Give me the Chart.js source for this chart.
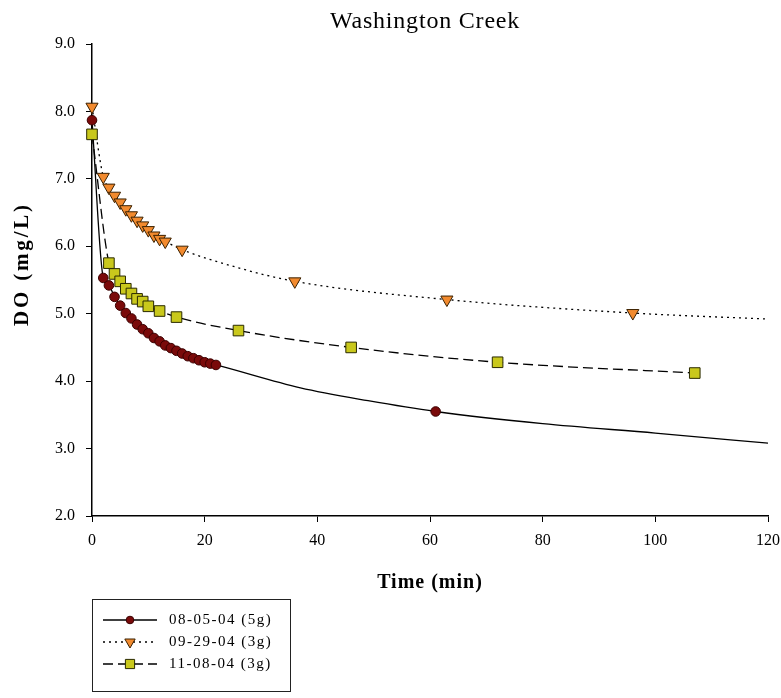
<!DOCTYPE html>
<html>
<head>
<meta charset="utf-8">
<script src="https://cdn.jsdelivr.net/npm/chart.js@4.4.1/dist/chart.umd.min.js"></script>
<style>
  html, body { margin: 0; padding: 0; background: #fff; }
  #wrap { width: 781px; height: 698px; }
</style>
</head>
<body>
<div id="wrap"><canvas id="chart_do_id" width="781" height="698"></canvas></div>
<script>
var chartTitle = 'Washington Creek';
var xTitle = 'Time (min)';
var yTitle = 'DO (mg/L)';
var seriesNames = ['08-05-04 (5g)', '09-29-04 (3g)', '11-08-04 (3g)'];

var t0805 = [0, 2, 3, 4, 5, 6, 7, 8, 9, 10, 11, 12, 13, 14, 15, 16, 17, 18, 19, 20, 21, 22, 61];
var do0805 = [7.87, 5.53, 5.42, 5.25, 5.12, 5.01, 4.93, 4.84, 4.77, 4.71, 4.64, 4.59, 4.53, 4.49,
              4.45, 4.41, 4.37, 4.34, 4.31, 4.28, 4.26, 4.24, 3.55];
// extra points along the drawn curve (no marker)
var curveT0805 = [37, 49, 80, 100, 120];
var curveDo0805 = [3.90, 3.71, 3.37, 3.23, 3.08];

var t0929 = [0, 2, 3, 4, 5, 6, 7, 8, 9, 10, 11, 12, 13, 16, 36, 63, 96];
var do0929 = [8.07, 7.03, 6.87, 6.75, 6.65, 6.55, 6.46, 6.38, 6.31, 6.24, 6.16, 6.11, 6.07,
              5.95, 5.48, 5.21, 5.01];
var curveT0929 = [26, 120];
var curveDo0929 = [5.68, 4.92];

var t1108 = [0, 3, 4, 5, 6, 7, 8, 9, 10, 12, 15, 26, 46, 72, 107];
var do1108 = [7.66, 5.75, 5.59, 5.48, 5.37, 5.30, 5.22, 5.18, 5.11, 5.04, 4.95, 4.75, 4.50, 4.28, 4.12];
var curveT1108 = [];
var curveDo1108 = [];

var xTicks = [0, 20, 40, 60, 80, 100, 120];
var yTicks = [2, 3, 4, 5, 6, 7, 8, 9];

function pts(tt, vv) {
    var out = [];
    for (var i = 0; i < tt.length; i++) out.push({x: tt[i], y: vv[i]});
    return out;
}
function curvePts(tt, vv, ct, cv) {
    return pts(tt, vv).concat(pts(ct, cv)).sort(function (a, b) { return a.x - b.x; });
}

var lineStyles = [
    {dash: [], marker: 'circle', radius: 4.8, rotation: 0, fill: '#7a0a0a', border: '#3a0000'},
    {dash: [2, 4], marker: 'triangle', radius: 7, rotation: 180, fill: '#f28a2e', border: '#3a2000'},
    {dash: [10, 5], marker: 'rect', radius: 7.5, rotation: 0, fill: '#c9c81c', border: '#2a2a00'}
];

var allT = [t0805, t0929, t1108];
var allDo = [do0805, do0929, do1108];
var allCurve = [[curveT0805, curveDo0805], [curveT0929, curveDo0929], [curveT1108, curveDo1108]];

var datasets = [];
for (var k = 0; k < 3; k++) {
    var st = lineStyles[k];
    datasets.push({
        label: seriesNames[k] + ' line',
        data: curvePts(allT[k], allDo[k], allCurve[k][0], allCurve[k][1]),
        showLine: true,
        borderColor: '#000',
        borderWidth: 1.3,
        borderDash: st.dash,
        cubicInterpolationMode: 'monotone',
        pointRadius: 0,
        order: 2
    });
}
for (var k = 0; k < 3; k++) {
    var st = lineStyles[k];
    datasets.push({
        label: seriesNames[k],
        data: pts(allT[k], allDo[k]),
        showLine: false,
        clip: false,
        pointStyle: st.marker,
        pointRadius: st.radius,
        pointRotation: st.rotation,
        pointBackgroundColor: st.fill,
        pointBorderColor: st.border,
        pointBorderWidth: 1,
        order: 1
    });
}

// titles and boxed legend, drawn by hand so the spacing can follow the picture
var textAndLegend = {
    id: 'textAndLegend',
    afterDraw: function (chart) {
        var ctx = chart.ctx;
        var area = chart.chartArea;
        ctx.save();
        ctx.fillStyle = '#000';
        ctx.textAlign = 'center';
        ctx.textBaseline = 'middle';

        ctx.font = '24px "Liberation Serif"';
        ctx.letterSpacing = '0.8px';
        ctx.fillText(chartTitle, 425, 22);

        ctx.font = 'bold 20px "Liberation Serif"';
        ctx.letterSpacing = '1px';
        ctx.fillText(xTitle, (area.left + area.right) / 2, 583);

        ctx.save();
        ctx.translate(23, 264);
        ctx.rotate(-Math.PI / 2);
        ctx.font = 'bold 21px "Liberation Serif"';
        ctx.letterSpacing = '2.8px';
        ctx.fillText(yTitle, 0, 0);
        ctx.restore();

        ctx.strokeStyle = '#222';
        ctx.lineWidth = 1;
        ctx.strokeRect(92.5, 599.5, 198, 92);
        var rows = [620, 642, 664];
        for (var i = 0; i < 3; i++) {
            var st = lineStyles[i];
            var y = rows[i];
            ctx.beginPath();
            ctx.setLineDash(st.dash);
            ctx.strokeStyle = '#000';
            ctx.lineWidth = 1.3;
            ctx.moveTo(103, y);
            ctx.lineTo(157, y);
            ctx.stroke();
            ctx.setLineDash([]);
            ctx.fillStyle = st.fill;
            ctx.strokeStyle = st.border;
            ctx.lineWidth = 1;
            Chart.helpers.drawPoint(ctx, {pointStyle: st.marker, radius: st.radius - 1, rotation: st.rotation, borderWidth: 1}, 130, y);
            ctx.fillStyle = '#000';
            ctx.font = '15px "Liberation Serif"';
            ctx.letterSpacing = '1.5px';
            ctx.textAlign = 'left';
            ctx.fillText(seriesNames[i], 169, y);
        }
        ctx.restore();
    }
};

new Chart(document.getElementById('chart_do_id').getContext('2d'), {
    type: 'scatter',
    data: {datasets: datasets},
    options: {
        responsive: false,
        animation: false,
        layout: {padding: {top: 44, left: 0, right: 0, bottom: 98}},
        plugins: {
            legend: {display: false},
            tooltip: {enabled: false},
            title: {display: false}
        },
        scales: {
            x: {
                type: 'linear',
                min: 0, max: 120,
                afterFit: function (s) { s.height = 84; s.paddingRight = 13; },
                afterBuildTicks: function (s) { s.ticks = xTicks.map(function (v) { return {value: v}; }); },
                border: {display: true, color: '#000', width: 1.5},
                grid: {display: true, drawOnChartArea: false, drawTicks: true, tickLength: 6, color: '#000'},
                ticks: {color: '#000', font: {family: 'Liberation Serif', size: 16}, padding: 9, maxRotation: 0}
            },
            y: {
                type: 'linear',
                min: 2, max: 9,
                afterFit: function (s) { s.width = 92; },
                afterBuildTicks: function (s) { s.ticks = yTicks.map(function (v) { return {value: v}; }); },
                border: {display: true, color: '#000', width: 1.5},
                grid: {display: true, drawOnChartArea: false, drawTicks: true, tickLength: 6, color: '#000'},
                ticks: {
                    color: '#000', font: {family: 'Liberation Serif', size: 16}, padding: 11,
                    callback: function (v) { return v.toFixed(1); }
                }
            }
        }
    },
    plugins: [textAndLegend]
});
</script>
</body>
</html>
